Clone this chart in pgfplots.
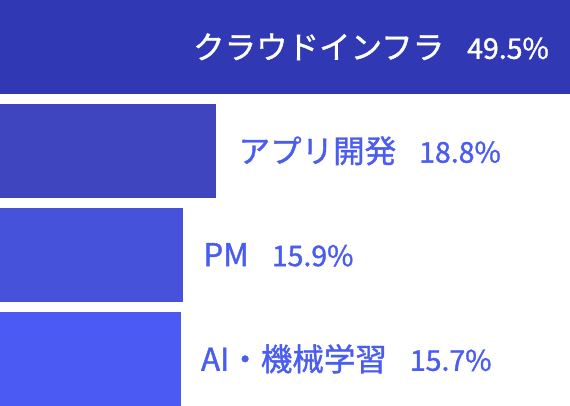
\documentclass[border=0pt]{standalone}
\usepackage{pgfplots}
\pgfplotsset{compat=1.18}
\usepackage{fontspec}
\setmainfont{Noto Sans CJK JP}[FakeBold=1.2]
\definecolor{c1}{HTML}{3038B4}
\definecolor{c2}{HTML}{3E45BF}
\definecolor{c3}{HTML}{4652DA}
\definecolor{c4}{HTML}{4C5AF4}
\definecolor{txt}{HTML}{4B5CF0}
\newcommand{\lab}[2]{{\fontsize{31.5}{31.5}\selectfont #1}\hspace{23pt}{\fontsize{28.5}{28.5}\selectfont #2}}
\begin{document}
\begin{tikzpicture}
\begin{axis}[
  scale only axis, width=570pt, height=405.6pt,
  xbar, bar width=0.9, bar shift=0pt,
  xmin=0, xmax=49.5, ymin=-0.45, ymax=3.45,
  y dir=reverse, hide axis, clip=false,
  every node near coord/.append style={inner sep=0pt},
]
\addplot[fill=c1, draw=none, nodes near coords={\lab{クラウドインフラ}{49.5\%}},
  nodes near coords style={anchor=east, xshift=-21pt, text=white}] coordinates {(49.5,0)};
\addplot[fill=c2, draw=none, nodes near coords={\lab{アプリ開発}{18.8\%}},
  nodes near coords style={anchor=west, xshift=22pt, text=txt}] coordinates {(18.8,1)};
\addplot[fill=c3, draw=none, nodes near coords={\lab{PM}{15.9\%}},
  nodes near coords style={anchor=west, xshift=20pt, text=txt}] coordinates {(15.9,2)};
\addplot[fill=c4, draw=none, nodes near coords={\lab{AI・機械学習}{15.7\%}},
  nodes near coords style={anchor=west, xshift=20pt, text=txt}] coordinates {(15.7,3)};
\end{axis}
\end{tikzpicture}
\end{document}
